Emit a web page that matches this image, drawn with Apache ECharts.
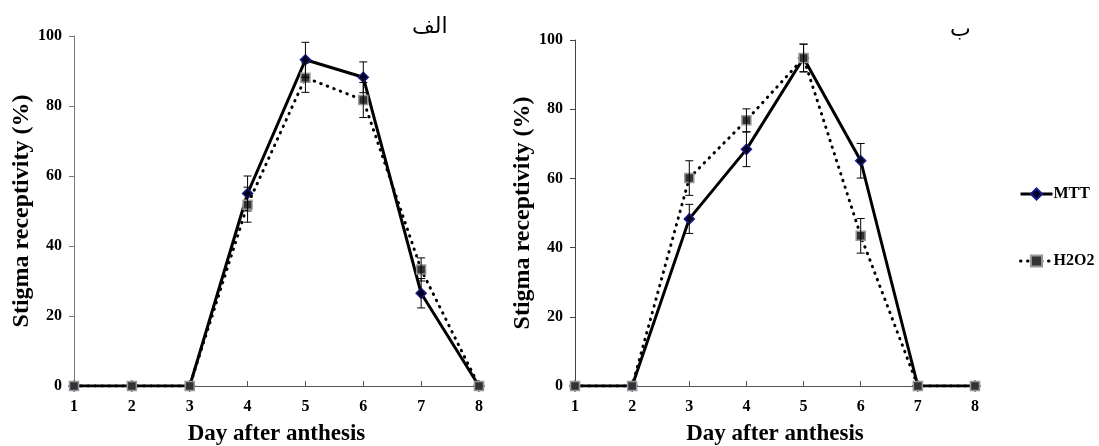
<!DOCTYPE html>
<html>
<head>
<meta charset="utf-8">
<script src="https://cdn.jsdelivr.net/npm/echarts@6/dist/echarts.min.js"></script>
<style>
html,body{margin:0;padding:0;background:#fff;}
#myChart{width:1099px;height:446px;}
</style>
</head>
<body>
<div id="myChart"></div>
<script>
// days after anthesis
var days = [1, 2, 3, 4, 5, 6, 7, 8];
var yTicks = [0, 20, 40, 60, 80, 100];

// panel "الف"
var mttA = [0, 0, 0, 55, 93.2, 88.2, 26.5, 0];
var mttAErr = [0, 0, 0, 5, 5, 4.4, 4.2, 0];
var h2o2A = [0, 0, 0, 51.8, 88.1, 81.7, 33.3, 0];
var h2o2AErr = [0, 0, 0, 5, 4.2, 5, 3.3, 0];

// panel "ب"
var mttB = [0, 0, 48.3, 68.4, 94.8, 65.1, 0, 0];
var mttBErr = [0, 0, 4.2, 5, 4, 5, 0, 0];
var h2o2B = [0, 0, 60.1, 76.8, 94.8, 43.4, 0, 0];
var h2o2BErr = [0, 0, 5, 3.3, 4, 5, 0, 0];

var serif = '"Liberation Serif", "DejaVu Serif", serif';

function pairs(vals) {
  return days.map(function (d, i) { return [d, vals[i]]; });
}
function errData(vals, errs) {
  var out = [];
  days.forEach(function (d, i) {
    if (errs[i] > 0) out.push([d, vals[i] - errs[i], vals[i] + errs[i]]);
  });
  return out;
}
function renderErr(params, api) {
  var x = api.value(0);
  var lo = api.coord([x, api.value(1)]);
  var hi = api.coord([x, api.value(2)]);
  var w = 4;
  var st = { stroke: '#000', lineWidth: 1 };
  return {
    type: 'group',
    children: [
      { type: 'line', shape: { x1: lo[0], y1: lo[1], x2: hi[0], y2: hi[1] }, style: st },
      { type: 'line', shape: { x1: lo[0] - w, y1: lo[1], x2: lo[0] + w, y2: lo[1] }, style: st },
      { type: 'line', shape: { x1: hi[0] - w, y1: hi[1], x2: hi[0] + w, y2: hi[1] }, style: st }
    ]
  };
}

function xAxisCfg(idx) {
  return {
    type: 'value', gridIndex: idx, min: 1, max: 8, interval: 1,
    name: 'Day after anthesis', nameLocation: 'middle', nameGap: 37,
    nameTextStyle: { fontFamily: serif, fontWeight: 'bold', fontSize: 23, color: '#000' },
    axisLine: { onZero: false, lineStyle: { color: '#555', width: 1 } },
    axisTick: { inside: true, length: 5, lineStyle: { color: '#555' } },
    axisLabel: { fontFamily: serif, fontWeight: 'bold', fontSize: 16, color: '#000', margin: 13 },
    splitLine: { show: false }
  };
}
function yAxisCfg(idx, gap, col) {
  return {
    type: 'value', gridIndex: idx, min: 0, max: 100, interval: 20,
    name: 'Stigma receptivity (%)', nameLocation: 'middle', nameGap: gap,
    nameTextStyle: { fontFamily: serif, fontWeight: 'bold', fontSize: 24, color: '#000' },
    axisLine: { show: true, lineStyle: { color: col, width: 1 } },
    axisTick: { show: true, length: 5, lineStyle: { color: col } },
    axisLabel: { fontFamily: serif, fontWeight: 'bold', fontSize: 16, color: '#000', margin: 12 },
    splitLine: { show: false }
  };
}

var mttStyle = {
  type: 'line', name: 'MTT', symbol: 'diamond', symbolSize: 10,
  lineStyle: { color: '#000', width: 3, type: 'solid' },
  itemStyle: { color: '#000022', borderColor: '#1a1a8c', borderWidth: 1.5 },
  z: 3
};
var h2o2Style = {
  type: 'line', name: 'H2O2', symbol: 'rect', symbolSize: 9,
  lineStyle: { color: '#000', width: 3, type: [0.5, 6.5], cap: 'round' },
  itemStyle: { color: '#333', borderColor: '#999', borderWidth: 1.5 },
  z: 4
};

function lineSeries(base, idx, vals) {
  return Object.assign({}, base, { xAxisIndex: idx, yAxisIndex: idx, data: pairs(vals), animation: false });
}
function errSeries(idx, vals, errs) {
  return {
    type: 'custom', xAxisIndex: idx, yAxisIndex: idx, renderItem: renderErr,
    encode: { x: 0, y: [1, 2] }, data: errData(vals, errs), z: 5, silent: true, animation: false
  };
}

var option = {
  backgroundColor: '#fff',
  animation: false,
  grid: [
    { left: 74, right: 620, top: 36, bottom: 60, outerBoundsMode: 'none', containLabel: false },
    { left: 575, right: 124, top: 40, bottom: 60, outerBoundsMode: 'none', containLabel: false }
  ],
  xAxis: [xAxisCfg(0), xAxisCfg(1)],
  yAxis: [yAxisCfg(0, 40, '#777'), yAxisCfg(1, 36, '#444')],
  legend: {
    data: ['MTT', 'H2O2'], orient: 'vertical', left: 1014, top: 181,
    itemWidth: 32, itemHeight: 14, itemGap: 51,
    lineStyle: { width: 3 },
    textStyle: { fontFamily: serif, fontWeight: 'bold', fontSize: 16, color: '#000', padding: [0, 0, 0, -4] }
  },
  graphic: [
    { type: 'text', left: 412, top: 16, style: { text: 'الف', fontFamily: '"DejaVu Sans"', fontSize: 22, fill: '#000' } },
    { type: 'text', left: 950, top: 19, style: { text: 'ب', fontFamily: '"DejaVu Sans"', fontSize: 22, fill: '#000' } }
  ],
  series: [
    lineSeries(mttStyle, 0, mttA),
    lineSeries(h2o2Style, 0, h2o2A),
    errSeries(0, mttA, mttAErr),
    errSeries(0, h2o2A, h2o2AErr),
    lineSeries(mttStyle, 1, mttB),
    lineSeries(h2o2Style, 1, h2o2B),
    errSeries(1, mttB, mttBErr),
    errSeries(1, h2o2B, h2o2BErr)
  ]
};

var myChart = echarts.init(document.getElementById('myChart'));
myChart.setOption(option);
</script>
</body>
</html>
